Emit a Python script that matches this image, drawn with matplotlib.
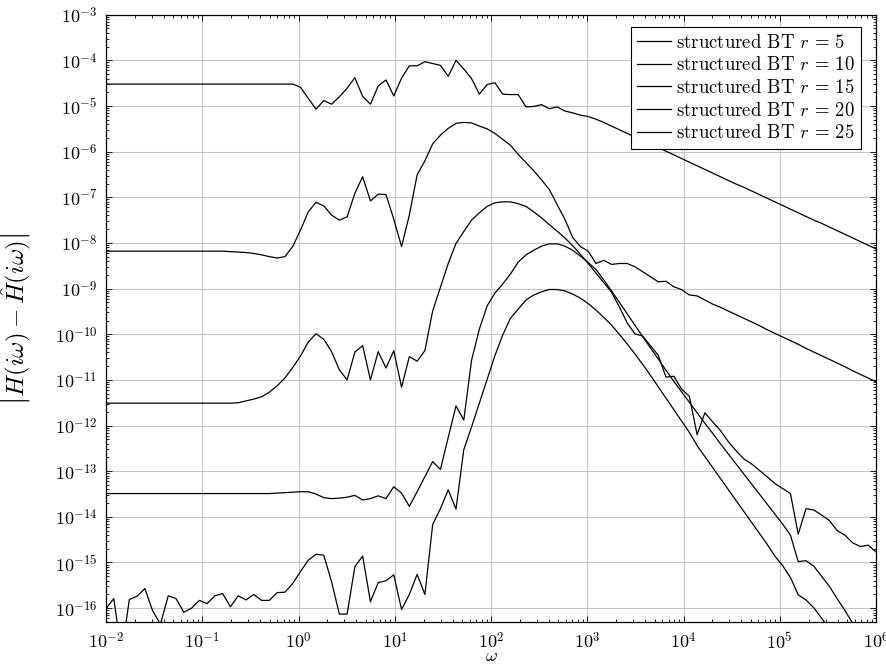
import numpy as np
import matplotlib
matplotlib.use('Agg')
import matplotlib.pyplot as plt
from matplotlib.ticker import LogLocator, FuncFormatter, NullFormatter

plt.rcParams['mathtext.fontset'] = 'cm'
plt.rcParams['font.family'] = ['cmr10', 'DejaVu Serif']
plt.rcParams['axes.formatter.use_mathtext'] = True

# frequency grid (100 log-spaced samples, 1e-2 .. 1e6)
omega = np.logspace(-2, 6, 100)

# log10 of the error, one value per sample
err_r5 = [-4.52] * 25 + [
    -4.59, -4.83, -5.07, -4.88, -4.96, -4.80, -4.61, -4.38, -4.79, -4.96,
    -4.56, -4.43, -4.78, -4.39, -4.12, -4.12, -4.03, -4.07, -4.11, -4.35,
    -4.00, -4.19, -4.40, -4.74, -4.53, -4.49, -4.74, -4.75, -4.75, -5.02,
    -5.01, -4.97, -5.06, -5.02, -5.11, -5.15, -5.20, -5.23, -5.29, -5.36,
    -5.44, -5.52, -5.60, -5.68, -5.76, -5.84, -5.91, -5.99, -6.07, -6.15,
    -6.23, -6.31, -6.39, -6.47, -6.55, -6.63, -6.71, -6.78, -6.86, -6.94,
    -7.02, -7.10, -7.18, -7.26, -7.34, -7.42, -7.50, -7.57, -7.65, -7.73,
    -7.81, -7.89, -7.97, -8.05, -8.13]

err_r10 = [-8.18] * 16 + [
    -8.19, -8.20, -8.21, -8.23, -8.26, -8.30, -8.33, -8.30, -8.08,
    -7.72, -7.32, -7.11, -7.19, -7.39, -7.50, -7.43, -6.91, -6.55, -7.08,
    -6.93, -6.94, -7.48, -8.08, -7.39, -6.51, -6.20, -5.83, -5.64, -5.49,
    -5.38, -5.36, -5.37, -5.44, -5.50, -5.60, -5.73, -5.86, -6.06, -6.24,
    -6.42, -6.62, -6.83, -7.16, -7.48, -7.88, -8.08, -8.18, -8.45, -8.38,
    -8.47, -8.45, -8.45, -8.52, -8.63, -8.74, -8.85, -8.84, -8.96, -9.02,
    -9.14, -9.16, -9.25, -9.34, -9.41, -9.49, -9.57, -9.65, -9.73, -9.81,
    -9.90, -9.98, -10.06, -10.14, -10.22, -10.31, -10.39, -10.47, -10.55, -10.63,
    -10.71, -10.80, -10.88, -10.96, -11.04]

err_r15 = [-11.51] * 17 + [
    -11.50, -11.46, -11.42, -11.37, -11.27, -11.13, -10.96, -10.73,
    -10.48, -10.17, -9.99, -10.11, -10.38, -10.78, -11.00, -10.39, -10.25, -11.00,
    -10.38, -10.74, -10.36, -11.16, -10.49, -10.59, -10.36, -9.49, -8.97, -8.45,
    -8.01, -7.75, -7.50, -7.34, -7.20, -7.12, -7.10, -7.10, -7.14, -7.20,
    -7.32, -7.45, -7.60, -7.74, -7.89, -8.06, -8.25, -8.45, -8.66, -8.87,
    -9.08, -9.40, -9.75, -9.99, -10.04, -10.25, -10.46, -10.94, -10.92, -11.20,
    -11.36, -12.20, -11.72, -11.92, -12.11, -12.35, -12.55, -12.73, -12.84, -12.98,
    -13.12, -13.27, -13.38, -13.49, -14.38, -13.82, -13.85, -13.96, -14.08, -14.30,
    -14.40, -14.57, -14.65, -14.62, -14.77]

err_r20 = [-13.49] * 22 + [
    -13.48, -13.47, -13.46,
    -13.45, -13.45, -13.50, -13.58, -13.60, -13.59, -13.57, -13.53, -13.63, -13.60,
    -13.54, -13.60, -13.34, -13.48, -13.77, -13.45, -13.12, -12.79, -12.96, -12.26,
    -11.57, -11.88, -10.57, -9.89, -9.38, -9.10, -8.90, -8.68, -8.42, -8.26,
    -8.16, -8.07, -8.02, -8.02, -8.07, -8.16, -8.29, -8.43, -8.58, -8.81,
    -9.05, -9.30, -9.55, -9.80, -10.05, -10.30, -10.54, -10.79, -11.03, -11.26,
    -11.49, -11.72, -11.95, -12.17, -12.40, -12.62, -12.84, -13.06, -13.28, -13.50,
    -13.72, -13.94, -14.16, -14.40, -14.98, -14.96, -15.08, -15.30, -15.52, -15.79,
    -16.05, -16.33, -16.58, -16.82, -17.05]

err_r25 = [
    -16.01, -15.79, -17.00, -15.81, -15.74, -15.57, -16.06, -16.35, -15.73, -15.79,
    -16.09, -16.00, -15.83, -15.90, -15.73, -15.68, -15.97, -15.73, -15.82, -15.70,
    -15.83, -15.83, -15.66, -15.65, -15.46, -15.20, -14.95, -14.82, -14.84, -15.42,
    -16.13, -16.13, -15.09, -14.86, -15.86, -15.44, -15.40, -15.27, -16.03, -15.70,
    -15.26, -15.70, -14.17, -13.82, -13.41, -13.83, -12.53, -12.03, -11.51, -10.99,
    -10.47, -10.02, -9.65, -9.45, -9.25, -9.14, -9.07, -9.02, -9.02, -9.05,
    -9.12, -9.21, -9.33, -9.47, -9.63, -9.80, -10.00, -10.21, -10.43, -10.66,
    -10.90, -11.15, -11.40, -11.65, -11.90, -12.15, -12.44, -12.68, -12.92, -13.16,
    -13.40, -13.64, -13.88, -14.12, -14.36, -14.60, -14.86, -15.07, -15.33, -15.71,
    -15.82, -15.99, -16.22, -16.45, -16.68, -16.91, -17.14, -17.37, -17.60, -17.83]

orders = [5, 10, 15, 20, 25]
labels = [r'structured BT $r\,=\,%d$' % r for r in orders]
errors = [err_r5, err_r10, err_r15, err_r20, err_r25]

W, H = 887, 666
fig = plt.figure(figsize=(W / 100, H / 100), dpi=100)
x0, x1, ytop, ybot = 106, 876, 14.7, 622.3
ax = fig.add_axes([x0 / W, 1 - ybot / H, (x1 - x0) / W, (ybot - ytop) / H])

for lab, e in zip(labels, errors):
    ax.plot(omega, 10.0 ** np.array(e), color='black', lw=0.9, label=lab, zorder=3)

ax.set_xscale('log')
ax.set_yscale('log')
ax.set_xlim(1e-2, 1e6)
ax.set_ylim(10 ** -16.31, 1e-3)

fmt = FuncFormatter(lambda v, p: r'$10^{%d}$' % int(round(np.log10(v))))
ax.xaxis.set_major_locator(LogLocator(base=10, numticks=30))
ax.yaxis.set_major_locator(LogLocator(base=10, numticks=30))
ax.xaxis.set_minor_locator(LogLocator(base=10, subs=np.arange(2, 10), numticks=30))
ax.yaxis.set_minor_locator(LogLocator(base=10, subs=np.arange(2, 10), numticks=30))
ax.xaxis.set_major_formatter(fmt)
ax.yaxis.set_major_formatter(fmt)
ax.xaxis.set_minor_formatter(NullFormatter())
ax.yaxis.set_minor_formatter(NullFormatter())

ax.tick_params(which='both', direction='in', top=True, right=True, color='black', width=0.6)
ax.tick_params(which='major', length=4.5, labelsize=13, pad=6)
ax.tick_params(which='minor', length=2.5)
ax.grid(True, which='major', color='#c4c4c4', lw=0.8, zorder=0)
ax.set_axisbelow(True)
for s in ax.spines.values():
    s.set_linewidth(0.9)
    s.set_color('black')

ax.set_xlabel(r'$\omega$', fontsize=13, va='center')
ax.xaxis.set_label_coords(0.5, -(656 - ybot) / (ybot - ytop))
ax.set_ylabel(r'$\left|H(i\omega)-\hat{H}(i\omega)\right|$', fontsize=18)
ax.yaxis.set_label_coords(-(x0 - 33) / (x1 - x0), 0.5)

leg = ax.legend(loc='upper right',
                bbox_to_anchor=((861 - x0) / (x1 - x0), 1 - (27 - ytop) / (ybot - ytop)),
                borderaxespad=0, fontsize=13.5, frameon=True, fancybox=False,
                edgecolor='black', framealpha=1, handlelength=1.8, handletextpad=0.25,
                labelspacing=0.25, borderpad=0.35)
leg.get_frame().set_linewidth(0.8)

fig.savefig('out.png', dpi=100)
